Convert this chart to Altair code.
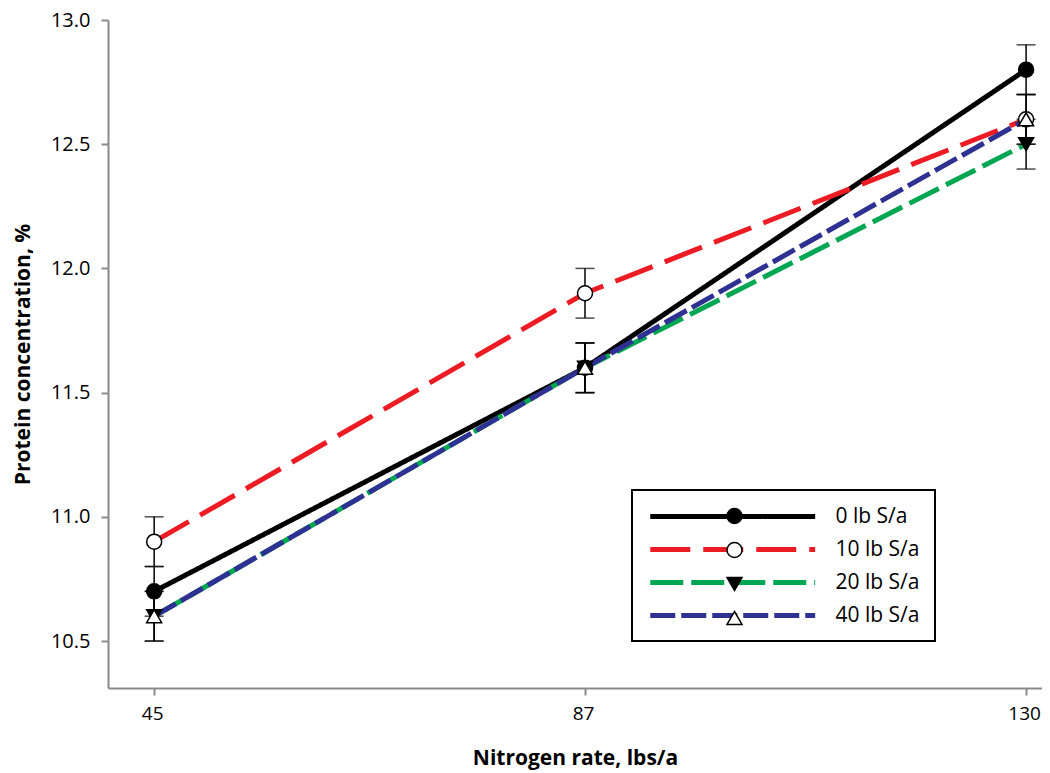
import altair as alt
import pandas as pd

# ---- data ----
n_rates = [45, 87, 130]
series = ["0 lb S/a", "10 lb S/a", "20 lb S/a", "40 lb S/a"]
protein_0 = [10.7, 11.6, 12.8]
protein_10 = [10.9, 11.9, 12.6]
protein_20 = [10.6, 11.6, 12.5]
protein_40 = [10.6, 11.6, 12.6]
err_0 = [0.1, 0.1, 0.1]
err_10 = [0.1, 0.1, 0.1]
err_20 = [0.1, 0.1, 0.1]
err_40 = [0.1, 0.1, 0.1]

y_ticks = [10.5, 11.0, 11.5, 12.0, 12.5, 13.0]

# ---- styles ----
colors = ["#000000", "#ED1C24", "#00A651", "#2E3192"]
dashes = [[1, 0], [40, 13], [33, 8], [25, 6]]
shapes = ["circle", "circle", "triangle-down", "triangle-up"]
fills = ["#000000", "#ffffff", "#000000", "#ffffff"]
marker_strokes = ["#000000", "#000000", "#000000", "#000000"]

marker_names = [s + " marker" for s in series]

rows = []
for name, mname, vals, errs in zip(series, marker_names,
                                   [protein_0, protein_10, protein_20, protein_40],
                                   [err_0, err_10, err_20, err_40]):
    for r, v, e in zip(n_rates, vals, errs):
        rows.append({"rate": r, "protein": v, "lo": v - e, "hi": v + e,
                     "series": name, "marker": mname})
df = pd.DataFrame(rows)

FONT = "Open Sans"

x_enc = alt.X("rate:Q",
              scale=alt.Scale(domain=[40.5, 131.55], nice=False, zero=False),
              axis=alt.Axis(values=n_rates, title="Nitrogen rate, lbs/a",
                            format="d", labelPadding=9, titlePadding=24,
                            labelFontSize=19, labelOffset=-2))
y_scale = alt.Scale(domain=[10.311, 13.0], nice=False, zero=False)
y_axis = alt.Axis(values=y_ticks, format=".1f", title="Protein concentration, %",
                  labelPadding=11, titlePadding=17)

base = alt.Chart(df)


def line_legend():
    return alt.Legend(orient="none", legendX=524, legendY=470,
                      title=None, symbolType="M-1,0H19",
                      symbolSize=272, symbolStrokeWidth=5,
                      labelFont=FONT, labelFontSize=21,
                      labelColor="#000000", labelOffset=166,
                      rowPadding=12, padding=15.5,
                      strokeColor="#000000", zindex=1)


def marker_legend():
    return alt.Legend(orient="none", legendX=600.5, legendY=470, title=None,
                      symbolSize=225, symbolStrokeColor="#000000",
                      symbolStrokeWidth=1.5, labelFont=FONT, labelFontSize=21,
                      labelExpr="' '", labelOpacity=0,
                      rowPadding=12, padding=15.5, zindex=2)


lines = base.mark_line(strokeWidth=5, strokeCap="butt").encode(
    x=x_enc,
    y=alt.Y("protein:Q", scale=y_scale, axis=y_axis),
    color=alt.Color("series:N", scale=alt.Scale(domain=series, range=colors),
                    legend=line_legend()),
    strokeDash=alt.StrokeDash("series:N",
                              scale=alt.Scale(domain=series, range=dashes),
                              legend=line_legend()),
)

err_rule = base.mark_rule(color="#000000", strokeWidth=1.5).encode(
    x="rate:Q", y=alt.Y("lo:Q", scale=y_scale), y2="hi:Q")
cap_lo = base.mark_tick(color="#000000", thickness=1.5, size=19,
                        orient="horizontal").encode(
    x="rate:Q", y=alt.Y("lo:Q", scale=y_scale))
cap_hi = base.mark_tick(color="#000000", thickness=1.5, size=19,
                        orient="horizontal").encode(
    x="rate:Q", y=alt.Y("hi:Q", scale=y_scale))

points = base.mark_point(size=225, strokeWidth=1.5,
                         opacity=1, fillOpacity=1, strokeOpacity=1).encode(
    x="rate:Q",
    y=alt.Y("protein:Q", scale=y_scale),
    shape=alt.Shape("marker:N", scale=alt.Scale(domain=marker_names, range=shapes),
                    legend=marker_legend()),
    fill=alt.Fill("marker:N", scale=alt.Scale(domain=marker_names, range=fills),
                  legend=marker_legend()),
    stroke=alt.Stroke("marker:N",
                      scale=alt.Scale(domain=marker_names, range=marker_strokes),
                      legend=marker_legend()),
)

chart = alt.layer(lines, err_rule, cap_lo, cap_hi, points).properties(
    width=934, height=668,
    autosize=alt.AutoSizeParams(type="none"),
    padding={"left": 100, "top": 12, "right": 0, "bottom": 85},
).configure_view(stroke=None).configure_axis(
    grid=False,
    domainColor="#8a8a8a", domainWidth=2,
    tickColor="#8a8a8a", tickWidth=2, tickSize=7,
    labelFont=FONT, labelFontSize=20, labelColor="#000000",
    titleFont=FONT, titleFontSize=21, titleFontWeight="bold", titleColor="#000000",
).configure_legend(strokeWidth=2)

chart.save("out.html", embed_options={"renderer": "svg", "actions": False})
